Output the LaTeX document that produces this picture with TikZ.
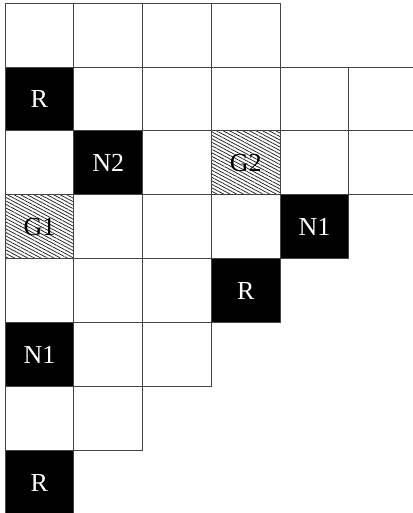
\documentclass[tikz,border=0pt]{standalone}
\usepackage{fontspec}
\setmainfont{Liberation Serif}
\usetikzlibrary{patterns.meta}

\tikzset{
  cellbox/.style={draw=gridgray, line width=0.7pt, minimum width=1.72cm, minimum height=1.6cm, inner sep=0pt, outer sep=0pt},
  blackcell/.style={cellbox, fill=black, text=white},
  hatchcell/.style={cellbox, pattern={Lines[angle=-28, distance=2.2pt, line width=0.55pt]}, pattern color=black!85, text=black}
}

\begin{document}
\begin{tikzpicture}[x=1.72cm, y=-1.6cm, font=\fontsize{18.5}{22}\selectfont]
  \definecolor{gridgray}{HTML}{444444}
  \useasboundingbox[fill=white] (-0.073,-0.047) rectangle (5.93,7.97);

  % staircase of empty cells, one row at a time
  \foreach \len [count=\r from 0] in {4,6,6,5,4,3,2,1} {
    \foreach \c in {1,...,\len} {
      \node[cellbox] (c\r-\c) at (\c-0.5, \r+0.5) {};
    }
  }

  % marked cells
  \node[blackcell] (r1) at (c1-1) {R};
  \node[blackcell] (n2) at (c2-2) {N2};
  \node[hatchcell] (g2) at (c2-4) {G2};
  \node[hatchcell] (g1) at (c3-1) {G1};
  \node[blackcell] (n1a) at (c3-5) {N1};
  \node[blackcell] (r2) at (c4-4) {R};
  \node[blackcell] (n1b) at (c5-1) {N1};
  \node[blackcell] (r3) at (c7-1) {R};
\end{tikzpicture}
\end{document}
